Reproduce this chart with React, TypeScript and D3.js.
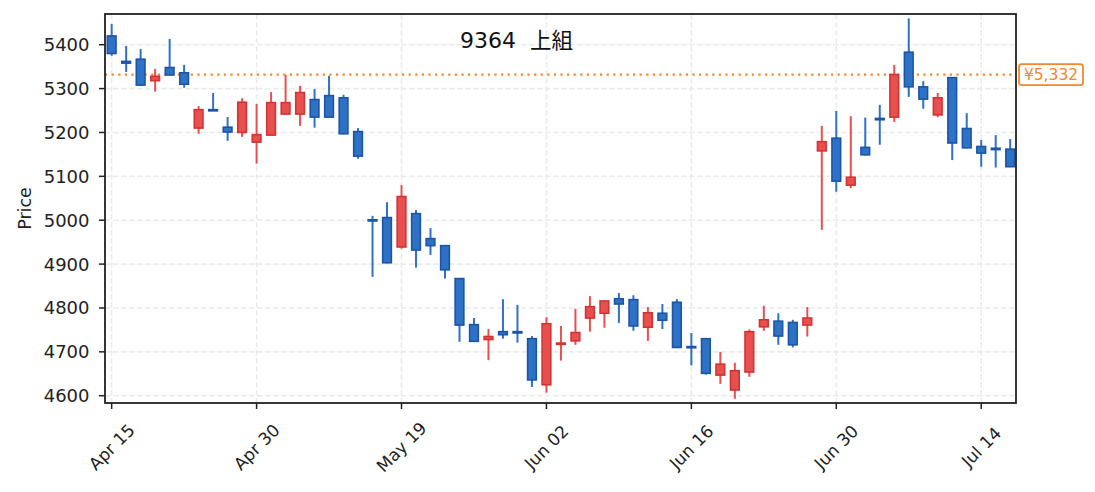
import React from "react";
import * as d3 from "d3";

const titleCode = "9364";
const titleName = "上組";
const refPrice = 5332;

const dates: string[] = [
  "2025-04-15","2025-04-16","2025-04-17","2025-04-18","2025-04-21","2025-04-22","2025-04-23","2025-04-24","2025-04-25","2025-04-28",
  "2025-04-30","2025-05-01","2025-05-07","2025-05-08","2025-05-09","2025-05-12","2025-05-13","2025-05-14","2025-05-15","2025-05-16",
  "2025-05-19","2025-05-20","2025-05-21","2025-05-22","2025-05-23","2025-05-26","2025-05-27","2025-05-28","2025-05-29","2025-05-30",
  "2025-06-02","2025-06-03","2025-06-04","2025-06-05","2025-06-06","2025-06-09","2025-06-10","2025-06-11","2025-06-12","2025-06-13",
  "2025-06-16","2025-06-17","2025-06-18","2025-06-19","2025-06-20","2025-06-23","2025-06-24","2025-06-25","2025-06-26","2025-06-27",
  "2025-06-30","2025-07-01","2025-07-02","2025-07-03","2025-07-04","2025-07-07","2025-07-08","2025-07-09","2025-07-10","2025-07-11",
  "2025-07-14","2025-07-15","2025-07-16",
];

const opens: number[] = [
  5420,5362,5367,5318,5348,5336,5210,5252,5212,5200,
  5178,5194,5242,5242,5275,5284,5279,5202,5001,5006,
  4939,5015,4958,4942,4867,4762,4728,4746,4746,4730,
  4625,4717,4725,4777,4788,4821,4819,4756,4788,4813,
  4712,4730,4647,4613,4654,4757,4770,4767,4761,5158,
  5187,5080,5166,5232,5235,5383,5304,5240,5325,5209,
  5168,5164,5162,
];
const highs: number[] = [
  5447,5397,5390,5345,5413,5354,5260,5290,5235,5278,
  5265,5292,5331,5306,5299,5329,5286,5210,5010,5041,
  5080,5023,4982,4943,4868,4777,4752,4820,4807,4736,
  4779,4759,4798,4827,4817,4834,4829,4802,4809,4820,
  4743,4731,4700,4675,4751,4805,4788,4773,4802,5215,
  5249,5237,5234,5263,5354,5460,5317,5290,5326,5244,
  5183,5194,5185,
];
const lows: number[] = [
  5375,5338,5306,5293,5330,5302,5197,5249,5181,5190,
  5129,5193,5241,5215,5211,5234,5196,5140,4871,4902,
  4935,4892,4921,4867,4723,4723,4681,4730,4721,4620,
  4607,4680,4716,4746,4755,4766,4748,4725,4752,4709,
  4669,4648,4627,4593,4643,4748,4716,4710,4735,4978,
  5065,5073,5148,5172,5224,5281,5254,5235,5137,5164,
  5122,5120,5121,
];
const closes: number[] = [
  5380,5358,5308,5328,5331,5310,5252,5250,5201,5269,
  5195,5268,5268,5291,5235,5235,5197,5146,4999,4903,
  5054,4932,4942,4887,4761,4724,4735,4739,4743,4636,
  4764,4720,4744,4803,4816,4809,4759,4789,4772,4710,
  4710,4651,4672,4657,4746,4773,4736,4716,4777,5179,
  5089,5098,5149,5229,5332,5304,5276,5279,5176,5165,
  5153,5161,5122,
];
const yTicks: number[] = [4600, 4700, 4800, 4900, 5000, 5100, 5200, 5300, 5400];
const xTickEvery = 10;

const W = 1095;
const H = 492;
const FONT = "'DejaVu Sans', 'Noto Sans CJK JP', sans-serif";
const CJK = "'Noto Sans CJK JP', sans-serif";

export default function App() {
  const left = 105, right = 1016, top = 14, bottom = 403;
  const x = d3.scaleLinear().domain([-0.46, 62.4]).range([left, right]);
  const y = d3.scaleLinear().domain([4583.4, 5470]).range([bottom, top]);
  const step = x(1) - x(0);
  const bw = step * 0.6;
  const parse = d3.timeParse("%Y-%m-%d");
  const fmt = d3.timeFormat("%b %d");
  const xTicks = dates.map((d, i) => i).filter((i) => i % xTickEvery === 0);
  const priceFmt = d3.format(",");

  const upFill = "#e84f4f", upEdge = "#d23434";
  const dnFill = "#2e72c6", dnEdge = "#1c55a6";
  const orange = "#f7862c";
  const grid = "#ebebeb";

  return (
    <svg width={W} height={H} style={{ position: "absolute", left: 0, top: 0, background: "#fff" }} fontFamily={FONT}>
      {/* grid */}
      {yTicks.map((t) => (
        <line key={"gy" + t} x1={left} x2={right} y1={y(t)} y2={y(t)} stroke={grid} strokeWidth={1.6} strokeDasharray="5.5,2.5" />
      ))}
      {xTicks.map((i) => (
        <line key={"gx" + i} x1={x(i)} x2={x(i)} y1={top} y2={bottom} stroke={grid} strokeWidth={1.6} strokeDasharray="5.5,2.5" />
      ))}
      {/* reference line */}
      <line x1={left} x2={right} y1={y(refPrice)} y2={y(refPrice)} stroke={orange} strokeWidth={2.2} strokeDasharray="2.2,4.4" />
      {/* candles */}
      {opens.map((o, i) => {
        const c = closes[i];
        const up = c >= o;
        const fill = up ? upFill : dnFill;
        const edge = up ? upEdge : dnEdge;
        const yt = y(Math.max(o, c));
        const yb = y(Math.min(o, c));
        const h = Math.max(yb - yt, 1.2);
        return (
          <g key={"c" + i}>
            <line x1={x(i)} x2={x(i)} y1={y(highs[i])} y2={y(lows[i])} stroke={fill} strokeWidth={2} />
            <rect x={x(i) - bw / 2} y={yt} width={bw} height={h} fill={fill} stroke={edge} strokeWidth={1.6} />
          </g>
        );
      })}
      {/* title */}
      <text x={460} y={48} fontSize={22} fill="#111" style={{ whiteSpace: "pre" }}>
        <tspan>{titleCode + "  "}</tspan>
        <tspan fontFamily={CJK} fontSize={21.5}>{titleName}</tspan>
      </text>
      {/* frame */}
      <rect x={left} y={top} width={right - left} height={bottom - top} fill="none" stroke="#222" strokeWidth={1.8} />
      {/* y axis */}
      {yTicks.map((t) => (
        <g key={"yt" + t}>
          <line x1={left - 6} x2={left} y1={y(t)} y2={y(t)} stroke="#222" strokeWidth={1.5} />
          <text x={89.5} y={y(t)} fontSize={18} textAnchor="end" dominantBaseline="central" fill="#222">{t}</text>
        </g>
      ))}
      <text transform={`translate(25, ${(top + bottom) / 2}) rotate(-90)`} fontSize={17.5} textAnchor="middle" dominantBaseline="central" fill="#222">Price</text>
      {/* x axis */}
      {xTicks.map((i) => (
        <g key={"xt" + i}>
          <line x1={x(i)} x2={x(i)} y1={bottom} y2={bottom + 6} stroke="#222" strokeWidth={1.5} />
          <text transform={`translate(${x(i)}, ${447}) rotate(-45)`} fontSize={17} textAnchor="middle" dominantBaseline="central" fill="#222">
            {fmt(parse(dates[i]) as Date)}
          </text>
        </g>
      ))}
      {/* price label */}
      <rect x={1019} y={y(refPrice) - 10.5} width={64} height={21} rx={2.5} fill="#fff" stroke={orange} strokeWidth={1.8} />
      <text x={1051} y={y(refPrice) + 0.5} fontSize={15.5} textAnchor="middle" dominantBaseline="central" fill={orange}>{"¥" + priceFmt(refPrice)}</text>
    </svg>
  );
}
